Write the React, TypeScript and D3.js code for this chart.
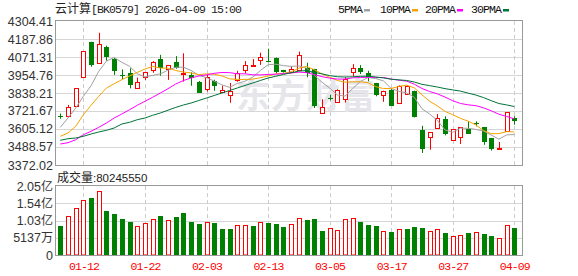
import React from "react";
import * as d3 from "d3";

const dates = [
  "01-07","01-08","01-09","01-12","01-13","01-14","01-15","01-16","01-19","01-20",
  "01-21","01-22","01-23","01-26","01-27","01-28","01-29","01-30","02-02","02-03",
  "02-04","02-05","02-06","02-09","02-10","02-11","02-12","02-13","02-24","02-25",
  "02-26","02-27","03-02","03-03","03-04","03-05","03-06","03-09","03-10","03-11",
  "03-12","03-13","03-16","03-17","03-18","03-19","03-20","03-23","03-24","03-25",
  "03-26","03-27","03-30","03-31","04-01","04-02","04-03","04-07","04-08","04-09",
];

const opens = [
  3689,3687,3752,3945,4168,4030,4138,4058,3956,3970,
  3869,3940,3986,4057,3995,4040,3967,3955,3910,3866,
  3915,3843,3828,3925,3988,4018,4050,4046,4068,3985,
  3977,3985,3998,3995,3711,3806,3782,3800,3976,4002,
  3969,3904,3825,3858,3775,3830,3853,3598,3551,3612,
  3670,3532,3551,3605,3643,3618,3547,3480,3590,3676,
];
const highs = [
  3705,3761,3869,4109,4170,4228,4145,4064,3991,3998,
  3938,3972,4045,4085,4020,4077,4095,3972,3916,3955,
  3924,3885,3903,3982,4045,4058,4099,4125,4068,3988,
  4011,4106,4034,3995,3798,3827,3862,3940,4025,4019,
  3982,3904,3853,3864,3888,3890,3853,3626,3584,3702,
  3687,3605,3616,3655,3655,3618,3547,3521,3713,3687,
];
const lows = [
  3672,3687,3752,3945,4008,4030,4048,3955,3928,3868,
  3869,3923,3969,3950,3923,3995,3912,3885,3838,3848,
  3852,3843,3775,3911,3966,4018,4020,4036,3967,3970,
  3976,3985,3940,3741,3711,3790,3782,3776,3946,3961,
  3914,3817,3781,3754,3770,3828,3680,3450,3471,3612,
  3564,3532,3508,3575,3622,3503,3465,3474,3590,3633,
];
const closes = [
  3688,3746,3869,4109,4020,4153,4074,3980,3953,3891,
  3908,3972,4037,3999,4017,3997,3969,3937,3840,3944,
  3884,3857,3851,3967,4022,4020,4069,4037,3976,3972,
  3996,4084,3966,3754,3746,3804,3857,3929,3998,3973,
  3939,3825,3851,3755,3885,3882,3681,3478,3584,3676,
  3575,3605,3616,3575,3641,3521,3476,3484,3713,3655,
];
// volume in 万 (10k shares)
const volumes = [
  8636,11525,13907,16290,16975,18970,13103,12210,10721,9827,
  8547,9440,10631,11614,10334,11316,12508,9827,9232,9738,
  9530,7743,7743,8845,8845,8636,9738,9530,9232,8338,
  9142,10929,10423,10721,7147,8041,7356,10631,11019,9827,
  8934,8636,7058,6849,7653,7743,8338,8041,7058,7653,
  6552,5569,5867,6552,6760,6254,5658,4973,8845,8024.555,
];

const ma5 = [
  3616.1,3676.3,3741.1,3816.8,3885.8,3979.0,4045.0,4068.0,4037.0,4011.0,
  3963.0,3942.2,3952.6,3962.0,3986.6,4004.8,4005.8,3984.0,3951.8,3938.0,
  3915.2,3891.0,3875.0,3900.0,3914.4,3940.8,3983.4,4021.6,4024.8,4015.6,
  4010.8,4013.4,3999.0,3953.6,3908.4,3870.8,3825.6,3817.8,3867.4,3913.0,
  3938.8,3932.2,3916.2,3867.4,3849.0,3839.2,3810.8,3736.6,3702.2,3661.0,
  3598.8,3583.6,3611.2,3609.4,3602.6,3591.8,3566.0,3539.2,3566.8,3569.4,
];
const ma10 = [
  3557.8,3579.2,3622.6,3697.7,3758.6,3816.8,3870.6,3898.4,3924.3,3948.6,
  3971.0,3993.6,4010.4,3999.6,3999.0,3983.9,3974.0,3968.4,3956.9,3962.3,
  3960.0,3948.4,3929.6,3925.9,3926.2,3928.0,3937.2,3948.3,3962.4,3965.0,
  3975.8,3998.4,4010.3,3989.2,3962.0,3940.8,3919.5,3908.4,3910.5,3910.7,
  3904.8,3878.9,3867.0,3867.4,3881.0,3889.0,3871.5,3826.4,3784.8,3755.0,
  3719.0,3697.2,3673.9,3655.8,3631.8,3595.3,3574.8,3575.2,3588.1,3586.0,
];
const ma20 = [
  3508.0,3516.4,3535.8,3568.2,3590.2,3616.1,3643.9,3676.3,3702.2,3730.1,
  3758.6,3784.5,3810.4,3838.2,3866.0,3896.5,3919.1,3935.3,3948.3,3955.5,
  3965.5,3971.0,3970.0,3962.8,3962.6,3956.0,3955.6,3958.4,3959.7,3963.7,
  3967.9,3973.4,3970.0,3957.6,3944.1,3934.4,3928.4,3928.4,3936.5,3937.9,
  3940.3,3938.7,3938.7,3928.3,3921.5,3914.9,3895.5,3867.4,3847.7,3832.9,
  3811.9,3788.1,3770.5,3761.6,3756.4,3742.2,3723.2,3700.8,3686.5,3670.5,
];
const ma30 = [
  3531.9,3542.3,3546.8,3557.8,3572.7,3585.7,3596.7,3611.6,3637.5,3648.5,
  3665.3,3676.3,3693.8,3708.7,3727.0,3745.0,3760.5,3773.4,3789.6,3805.8,
  3822.0,3838.2,3854.4,3870.6,3886.8,3902.9,3919.1,3935.3,3946.3,3958.6,
  3968.9,3980.1,3983.4,3971.6,3962.4,3950.9,3943.6,3941.7,3943.3,3946.0,
  3946.9,3941.9,3935.6,3927.5,3923.1,3919.3,3909.4,3894.4,3885.9,3876.9,
  3866.5,3858.2,3850.4,3837.5,3824.9,3808.4,3788.6,3770.0,3761.1,3750.6,
];

const priceTicks = [4304.41, 4187.86, 4071.31, 3954.76, 3838.21, 3721.67, 3605.12, 3488.57, 3372.02];
const volTicks = [20548, 15411, 10274, 5137, 0];
const volTickLabels = ["2.05亿", "1.54亿", "1.03亿", "5137万", "0"];
const dateTicks = ["01-12", "01-22", "02-03", "02-13", "03-05", "03-17", "03-27", "04-09"];
const legendNames = ["5PMA", "10PMA", "20PMA", "30PMA"];
const legendColors = ["#a0a0a0", "#f5a200", "#ff00ff", "#00733a"];
const legendX = [338, 380, 425, 471];

const RED = "#ff0000";
const GREEN = "#008000";
const W = 578;
const H = 276;
const L = 56, R = 522, T = 21, B = 165;
const VT = 186, VB = 255;

const snap = (v: number) => Math.round(v) + 0.5;

export default function App() {
  const x = d3.scalePoint<string>().domain(dates).range([60.3, 514.3]);
  const y = d3.scaleLinear().domain([3372.02, 4304.41]).range([B, T]);
  const yv = d3.scaleLinear().domain([0, 20548]).range([VB, VT]);

  const cx = (i: number) => Math.round(x(dates[i]) as number) + 0.5;

  const mas = [ma5, ma10, ma20, ma30];
  const line = d3
    .line<number>()
    .x((_, i) => x(dates[i]) as number)
    .y((d) => y(d));

  const mono = "'Liberation Mono', 'DejaVu Sans Mono', monospace";
  const sans = "'Liberation Sans', Arial, sans-serif";
  const cjk = "'Noto Sans CJK SC', sans-serif";

  return (
    <svg
      width={W}
      height={H}
      style={{ position: "fixed", left: 0, top: 0, background: "#fff" }}
    >
      <rect x={0} y={0} width={W} height={H} fill="#fff" />

      {/* title */}
      <text x={55} y={13} fill="#222">
        <tspan fontFamily={cjk} fontSize={12}>云计算</tspan>
        <tspan fontFamily={mono} fontSize={11.5} letterSpacing={-0.9}>[BK0579] 2026-04-09 15:00</tspan>
      </text>

      {/* legend */}
      {legendNames.map((n, k) => (
        <g key={n}>
          <text x={legendX[k]} y={13} fontFamily={mono} fontSize={11.5} letterSpacing={-0.9} fill="#111">
            {n}
          </text>
          <rect x={legendX[k] + n.length * 6 + 2} y={9} width={6} height={2.5} fill={legendColors[k]} />
        </g>
      ))}

      {/* horizontal grid main */}
      {priceTicks.slice(1, -1).map((t) => (
        <line key={t} x1={L} x2={R} y1={snap(y(t))} y2={snap(y(t))} stroke="#d6d6d6" strokeWidth={1} />
      ))}
      {volTicks.slice(1, -1).map((t) => (
        <line key={t} x1={L} x2={R} y1={snap(yv(t))} y2={snap(yv(t))} stroke="#d6d6d6" strokeWidth={1} />
      ))}
      {/* vertical dashed grid */}
      {dateTicks.map((d) => {
        const xx = Math.round(x(d) as number) + 0.5;
        return (
          <g key={d}>
            <line x1={xx} x2={xx} y1={T} y2={B} stroke="#cccccc" strokeDasharray="4,3" />
            <line x1={xx} x2={xx} y1={VT} y2={VB} stroke="#cccccc" strokeDasharray="4,3" />
          </g>
        );
      })}

      {/* watermark */}
      <text x={236} y={108} fontFamily={cjk} fontWeight={700} fontSize={34} fill="#e6e6ea" letterSpacing={1}>
        东方财富
      </text>

      {/* candles */}
      {dates.map((d, i) => {
        const o = opens[i], c = closes[i], h = highs[i], l = lows[i];
        const up = c >= o;
        const col = up ? RED : GREEN;
        const X = cx(i);
        const yTop = y(Math.max(o, c));
        const yBot = y(Math.min(o, c));
        const yH = y(h), yL = y(l);
        if (up) {
          const t = Math.round(yTop) + 0.5;
          const b = Math.max(Math.round(yBot) + 0.5, t + 1);
          return (
            <g key={d}>
              {yH < t && <line x1={X} x2={X} y1={yH} y2={t} stroke={col} />}
              {yL > b && <line x1={X} x2={X} y1={b} y2={yL} stroke={col} />}
              <rect x={X - 2} y={t} width={4} height={b - t} fill="#fff" stroke={col} strokeWidth={1} />
            </g>
          );
        }
        const t = Math.round(yTop);
        const hgt = Math.max(Math.round(yBot) - t, 1);
        return (
          <g key={d}>
            <line x1={X} x2={X} y1={yH} y2={yL} stroke={col} />
            <rect x={X - 2.5} y={t} width={5} height={hgt} fill={col} />
          </g>
        );
      })}

      {/* moving averages */}
      {mas.map((m, k) => (
        <path key={k} d={line(m) || ""} fill="none" stroke={legendColors[k]} strokeWidth={1} />
      ))}

      {/* volume bars */}
      {dates.map((d, i) => {
        const up = i === 0 ? closes[0] >= opens[0] : closes[i] >= closes[i - 1];
        const X = cx(i);
        const top = Math.round(yv(volumes[i]));
        if (up) {
          return (
            <rect key={d} x={X - 2} y={top + 0.5} width={4} height={VB - top - 0.5} fill="#fff" stroke={RED} />
          );
        }
        return <rect key={d} x={X - 2.5} y={top} width={5} height={VB - top} fill={GREEN} />;
      })}

      {/* borders */}
      <rect x={L - 0.5} y={T - 0.5} width={R - L + 1} height={B - T + 1} fill="none" stroke="#999" />
      <rect x={L - 0.5} y={VT - 0.5} width={R - L + 1} height={VB - VT + 1} fill="none" stroke="#999" />

      {/* price axis labels */}
      {priceTicks.map((t) => (
        <text
          key={t}
          x={53}
          y={y(t) + 4.5}
          textAnchor="end"
          fontFamily={sans}
          fontSize={12.5}
          fill="#333"
        >
          {t.toFixed(2)}
        </text>
      ))}

      {/* volume label */}
      <text x={57} y={182} fill="#222">
        <tspan fontFamily={cjk} fontSize={12}>成交量</tspan>
        <tspan fontFamily={sans} fontSize={11.5}>:80245550</tspan>
      </text>

      {/* volume axis labels */}
      {volTicks.map((t, k) => (
        <text
          key={t}
          x={53}
          y={yv(t) + 4.5}
          textAnchor="end"
          fontFamily={sans}
          fontSize={12.5}
          fill="#333"
        >
          {volTickLabels[k].replace(/[亿万]/, "")}
          {/[亿万]/.test(volTickLabels[k]) && (
            <tspan fontFamily={cjk} fontSize={12}>{volTickLabels[k].slice(-1)}</tspan>
          )}
        </text>
      ))}

      {/* date labels */}
      {dateTicks.map((d) => (
        <text
          key={d}
          x={(x(d) as number) + 0.5}
          y={270}
          textAnchor="middle"
          fontFamily={mono}
          fontSize={11.5}
          letterSpacing={-0.9}
          fill={RED}
        >
          {d}
        </text>
      ))}
    </svg>
  );
}
